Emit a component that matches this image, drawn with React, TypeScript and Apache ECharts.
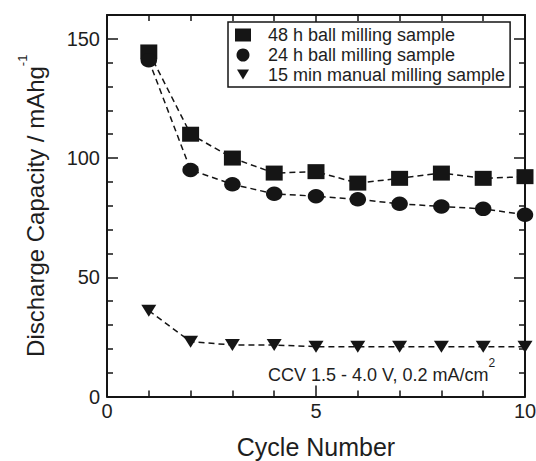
import React, { useEffect, useRef } from "react";
import * as echarts from "echarts";

// ---- data ----
const cycles = [1, 2, 3, 4, 5, 6, 7, 8, 9, 10];
const ball48h = [144.5, 110, 100, 93.7, 94.3, 89.5, 91.5, 93.7, 91.5, 92.2];
const ball24h = [141, 95, 89, 85, 84, 82.7, 80.8, 79.7, 78.7, 76.2];
const manual15min = [36, 23, 21.6, 21.6, 20.9, 20.9, 20.9, 20.9, 20.9, 20.9];
const seriesNames = [
  "48 h ball milling sample",
  "24 h ball milling sample",
  "15 min manual milling sample",
];
const xTitle = "Cycle Number";
const yTitle = "Discharge Capacity / mAhg";
const yTitleSup = "-1";
const note = "CCV 1.5 - 4.0 V, 0.2 mA/cm";
const noteSup = "2";

const FONT = "'Liberation Sans', Arial, Helvetica, sans-serif";
const INK = "#151515";
const TXT = "#1e1e1e";

export default function App() {
  const ref = useRef<HTMLDivElement>(null);
  useEffect(() => {
    if (!ref.current) return;
    const chart = echarts.init(ref.current, undefined, { renderer: "svg" });

    const tickCol = { color: INK, width: 1.5 };
    const axisBase = () => ({
      axisLine: { show: true, onZero: false, lineStyle: { color: INK, width: 2 } },
      axisTick: { show: true, inside: true, length: 11, lineStyle: tickCol },
      minorTick: { show: true, splitNumber: 5, length: 6, lineStyle: tickCol },
      splitLine: { show: false },
      minorSplitLine: { show: false },
    });

    const mk = (i: number, arr: number[], symbol: string, size: number[], rot = 0) => ({
      type: "line",
      name: seriesNames[i],
      data: cycles.map((c, k) => [c, arr[k]]),
      symbol,
      symbolSize: size,
      symbolRotate: rot,
      showSymbol: true,
      itemStyle: { color: INK },
      lineStyle: { color: INK, width: 1.5, type: [6, 4] },
      xAxisIndex: 0,
      yAxisIndex: 0,
      z: 3 + i,
    });

    chart.setOption({
      animation: false,
      backgroundColor: "#fff",
      textStyle: { fontFamily: FONT },
      grid: { left: 107, right: 11, top: 15, bottom: 64.5, containLabel: false, outerBoundsMode: "none" },
      xAxis: [
        {
          type: "value",
          min: 0,
          max: 10,
          interval: 5,
          position: "bottom",
          ...axisBase(),
          axisLabel: { show: true, fontSize: 20, color: TXT, margin: 4, fontFamily: FONT },
          name: xTitle,
          nameLocation: "middle",
          nameGap: 37.5,
          nameTextStyle: { fontSize: 25, color: TXT, fontFamily: FONT },
        },
        {
          type: "value",
          min: 0,
          max: 10,
          interval: 5,
          position: "top",
          ...axisBase(),
          axisLabel: { show: false },
        },
      ],
      yAxis: [
        {
          type: "value",
          min: 0,
          max: 160,
          interval: 50,
          position: "left",
          ...axisBase(),
          axisLabel: {
            show: true,
            fontSize: 20,
            color: TXT,
            margin: 7,
            fontFamily: FONT,
            formatter: (v: number) => (v % 50 === 0 ? String(v) : ""),
          },
          name: `{a|${yTitle}}{s|${yTitleSup}}`,
          nameLocation: "middle",
          nameRotate: 90,
          nameGap: 53,
          nameTextStyle: {
            rich: {
              a: { fontSize: 24, lineHeight: 38, color: TXT, fontFamily: FONT },
              s: { fontSize: 13, lineHeight: 14, verticalAlign: "top", color: TXT, fontFamily: FONT },
            },
          },
        },
        {
          type: "value",
          min: 0,
          max: 160,
          interval: 50,
          position: "right",
          ...axisBase(),
          axisLabel: { show: false },
        },
      ],
      legend: {
        orient: "vertical",
        left: 228,
        top: 22,
        padding: [4, 5, 3, 7],
        itemGap: 2,
        itemWidth: 16,
        itemHeight: 13,
        borderColor: INK,
        borderWidth: 1.5,
        borderRadius: 0,
        backgroundColor: "#fff",
        selectedMode: false,
        symbolRotate: 0,
        textStyle: { fontSize: 18, color: TXT, fontFamily: FONT, padding: [0, 0, 0, 12] },
        data: [
          { name: seriesNames[0], icon: "rect" },
          { name: seriesNames[1], icon: "circle" },
          { name: seriesNames[2], icon: "path://M0,0M16,13M2,1L14,1L8,11Z" },
        ],
      },
      graphic: [
        {
          type: "text",
          x: 268,
          y: 356.5,
          z: 10,
          style: {
            text: `{a|${note}}{s|${noteSup}}`,
            align: "left",
            verticalAlign: "top",
            rich: {
              a: { fontSize: 18, lineHeight: 36, fill: TXT, fontFamily: FONT },
              s: { fontSize: 12, lineHeight: 12, verticalAlign: "top", fill: TXT, fontFamily: FONT },
            },
          },
        },
      ],
      series: [
        mk(0, ball48h, "rect", [17, 15]),
        mk(1, ball24h, "circle", [16.5, 14.5]),
        mk(2, manual15min, "triangle", [15, 12], 180),
      ],
    });
    return () => chart.dispose();
  }, []);
  return (
    <div
      ref={ref}
      style={{ position: "fixed", left: 0, top: 0, width: 536, height: 461, background: "#fff" }}
    />
  );
}
